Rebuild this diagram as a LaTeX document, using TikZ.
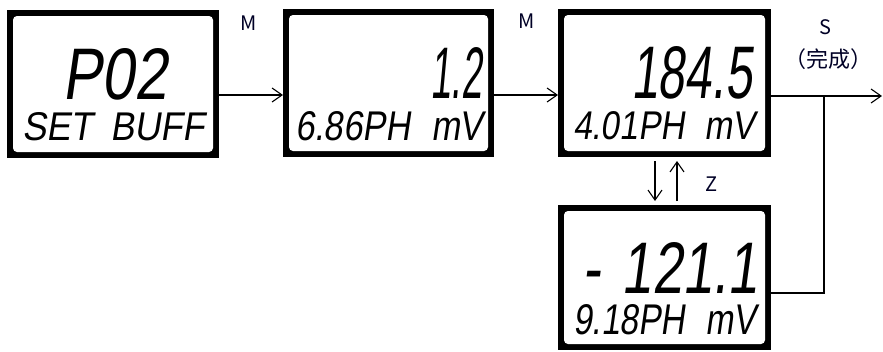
\documentclass[tikz,border=0pt]{standalone}
\usepackage{fontspec}
\newfontfamily\lcd[FakeSlant=0.18]{Liberation Sans}
\newfontfamily\cjk{Noto Sans CJK SC}
\usetikzlibrary{arrows.meta}
\tikzset{
  lcdbox/.style={fill=black, inner sep=0pt, outer sep=0pt},
  lcdtxt/.style={inner sep=0pt, outer sep=0pt, anchor=south west},
  arr/.style={line width=1.2pt, -{Straight Barb[length=10pt,width=14pt,line width=1.1pt]}},
  plain/.style={line width=1.2pt},
  lbl/.style={font=\cjk\fontsize{20}{22}\selectfont, inner sep=0pt, text=black!85!blue},
  cjklbl/.style={font=\cjk\fontsize{22}{24}\selectfont, inner sep=0pt, text=black!85!blue}
}
\newcommand\lcdinner[1]{\fill[white, rounded corners=4pt] ([shift={(6pt,-6pt)}]#1.north west) rectangle ([shift={(-6pt,6pt)}]#1.south east);}
\begin{document}
\begin{tikzpicture}[x=1pt,y=-1pt]
\useasboundingbox[fill=white] (0,0) rectangle (883,351);
% frames
\node[lcdbox, minimum width=212pt, minimum height=148pt] (b1) at (113,84) {};
\node[lcdbox, minimum width=211pt, minimum height=148pt] (b2) at (388.5,83) {};
\node[lcdbox, minimum width=213pt, minimum height=148pt] (b3) at (664.5,83) {};
\node[lcdbox, minimum width=213pt, minimum height=145pt] (b4) at (664.5,277.5) {};
\lcdinner{b1}\lcdinner{b2}\lcdinner{b3}\lcdinner{b4}
% LCD texts
\node[lcdtxt] (t1a) at (62,100) {\resizebox{105pt}{51pt}{\lcd P02}};
\node[lcdtxt] (t1b) at (22,141) {\resizebox{183pt}{28pt}{\lcd SET\hspace{0.5em}BUFF}};
\node[lcdtxt] (t2a) at (430,98) {\resizebox{52pt}{51pt}{\lcd 1.2}};
\node[lcdtxt] (t2b) at (295,141) {\resizebox{188pt}{29pt}{\lcd 6.86PH\hspace{0.6em}mV}};
\node[lcdtxt] (t3a) at (631,99) {\resizebox{121pt}{52pt}{\lcd 184.5}};
\node[lcdtxt] (t3b) at (573,140) {\resizebox{182pt}{28pt}{\lcd 4.01PH\hspace{0.6em}mV}};
\node[lcdtxt] (t4a) at (582,293) {\resizebox{176pt}{51pt}{\lcd -\hspace{0.4em}121.1}};
\node[lcdtxt] (t4b) at (573,335) {\resizebox{183pt}{30pt}{\lcd 9.18PH\hspace{0.6em}mV}};
% connectors
\draw[arr] ([yshift=-11pt]b1.east) -- ([yshift=-11pt]b1.east -| b2.west);
\draw[arr] ([yshift=-12pt]b2.east) -- ([yshift=-12pt]b2.east -| b3.west);
\coordinate (out) at (882,96);
\coordinate (j) at (824,96);
\draw[arr] ([yshift=-13pt]b3.east) -- (out);
\draw[plain] (j) |- ([yshift=-15.5pt]b4.east);
\draw[arr] ([xshift=-9.5pt,yshift=-4pt]b3.south) -- ([xshift=-9.5pt,yshift=4pt]b4.north);
\draw[arr] ([xshift=12.5pt,yshift=4pt]b4.north) -- ([xshift=12.5pt,yshift=-4pt]b3.south);
% labels
\node[lbl] (m1) at (249,23) {M};
\node[lbl] (m2) at (527,21) {M};
\node[lbl] (s) at (825,27) {S};
\node[cjklbl] (done) at (828,59) {（完成）};
\node[lbl] (z) at (712,184) {Z};
\end{tikzpicture}
\end{document}
